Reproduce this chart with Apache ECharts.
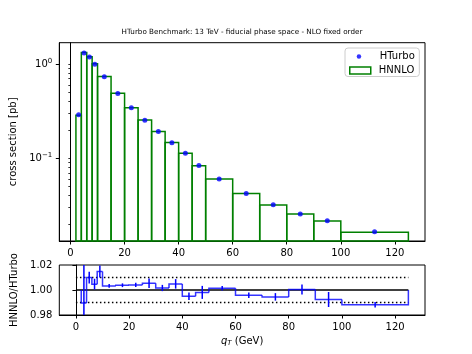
<!DOCTYPE html>
<html>
  <head>
      <meta charset="utf-8">
      <script src="https://cdn.jsdelivr.net/npm/echarts@6/dist/echarts.min.js"></script>
  </head>

<body style="margin:0">
    <div id="main" style="width: 472px;height:354px;"></div>
    <script type="text/javascript">
        // bins in qT (GeV)
        var binEdges = [2, 4, 6, 8, 10, 15, 20, 25, 30, 35, 40, 45, 50, 60, 70, 80, 90, 100, 125];
        var binCenters = [3, 5, 7, 9, 12.5, 17.5, 22.5, 27.5, 32.5, 37.5, 42.5, 47.5, 55, 65, 75, 85, 95, 112.5];
        // cross section [pb]
        var hnnlo = [0.286, 1.33, 1.20, 1.01, 0.738, 0.491, 0.345, 0.255, 0.192, 0.147, 0.113, 0.0834, 0.0603, 0.0421, 0.0319, 0.0255, 0.0215, 0.0164];
        var hturbo = [0.289, 1.31, 1.19, 1.00, 0.736, 0.489, 0.344, 0.254, 0.192, 0.146, 0.113, 0.0835, 0.0602, 0.0423, 0.0321, 0.0255, 0.0217, 0.0166];
        // HNNLO/HTurbo
        var ratio = [0.9897, 1.0100, 1.0047, 1.0149, 1.0033, 1.0038, 1.0041, 1.0054, 1.0016, 1.0049, 0.9950, 0.9981, 1.0014, 0.9958, 0.9945, 1.0004, 0.9924, 0.9882];
        var ratioErr = [0.035, 0.0047, 0.0043, 0.0048, 0.0015, 0.0015, 0.0017, 0.0038, 0.0025, 0.0038, 0.003, 0.0052, 0.0018, 0.0022, 0.003, 0.004, 0.006, 0.0022];
        var refX = [0, 125];
        var xTicks = [0, 20, 40, 60, 80, 100, 120];
        var yMajor = [0.1, 1];
        var yMinor = [0.02, 0.03, 0.04, 0.05, 0.06, 0.07, 0.08, 0.09, 0.2, 0.3, 0.4, 0.5, 0.6, 0.7, 0.8, 0.9];
        var ratioTicks = [0.98, 1.00, 1.02];

        var yMin = 0.0132, yMax = 1.69;
        var font = 'DejaVu Sans';

        var barData = hnnlo.map(function (v, i) { return [binEdges[i], binEdges[i + 1], v]; });
        var dotData = hturbo.map(function (v, i) { return [binCenters[i], v]; });
        var stepData = ratio.map(function (v, i) { return [binEdges[i], binEdges[i + 1], v, i]; });
        var errData = ratio.map(function (v, i) { return [binCenters[i], v - ratioErr[i], v + ratioErr[i]]; });

        function xAxisOpt(grid, min, max) {
            return {
                type: 'value', gridIndex: grid, min: min, max: max,
                axisLine: { lineStyle: { color: '#000', width: 1 } },
                axisTick: { customValues: xTicks, length: 3.5, lineStyle: { color: '#000' } },
                axisLabel: { customValues: xTicks, color: '#000', fontSize: 10, fontFamily: font, margin: 7 },
                splitLine: { show: false }
            };
        }

        var myChart = echarts.init(document.getElementById('main'));
        myChart.setOption({
            animation: false,
            title: {
                text: 'HTurbo Benchmark: 13 TeV - fiducial phase space - NLO fixed order',
                left: 242, top: 29, textAlign: 'center', padding: 0,
                textStyle: { fontSize: 7.2, fontWeight: 'normal', color: '#000', fontFamily: font }
            },
            legend: [{
                data: [{ name: 'HNNLO', icon: 'rect', itemStyle: { color: '#fff', borderColor: '#008000', borderWidth: 1.5 } }],
                left: 345, top: 48, padding: [17.5, 5, 1, 4], itemWidth: 21, itemHeight: 7,
                selectedMode: false, orient: 'vertical',
                borderColor: '#ccc', borderWidth: 1, borderRadius: 3, backgroundColor: 'rgba(255,255,255,0.8)',
                textStyle: { fontSize: 10, color: '#000', fontFamily: font, padding: [0, 0, 0, 3] }
            }, {
                data: [{ name: 'HTurbo', icon: 'circle', itemStyle: { color: '#0000ff' } }],
                left: 356.7, top: 51.5, padding: 0, itemWidth: 21, itemHeight: 4.5,
                selectedMode: false, z: 10,
                textStyle: { fontSize: 10, color: '#000', fontFamily: font, padding: [0, 0, 0, 5.3] }
            }],
            grid: [
                { left: 59.3, top: 42.7, width: 365.7, height: 198.3, show: true, borderColor: '#000', borderWidth: 1, backgroundColor: 'transparent' },
                { left: 59.3, top: 265, width: 365.7, height: 50, show: true, borderColor: '#000', borderWidth: 1, backgroundColor: 'transparent' }
            ],
            xAxis: [
                xAxisOpt(0, -4.15, 131.15),
                Object.assign(xAxisOpt(1, -6.25, 131.25), {
                    name: '{i|q}{sub|T} (GeV)', nameLocation: 'middle', nameGap: 20,
                    nameTextStyle: {
                        fontSize: 10, color: '#000', fontFamily: font,
                        rich: {
                            i: { fontSize: 10, fontStyle: 'italic', fontFamily: font, color: '#000' },
                            sub: { fontSize: 7, fontStyle: 'italic', fontFamily: font, color: '#000', verticalAlign: 'bottom', padding: [5, 0, 0, 0] }
                        }
                    }
                })
            ],
            yAxis: [{
                type: 'log', logBase: 10, gridIndex: 0, min: yMin, max: yMax, position: 'left',
                name: 'cross section [pb]', nameLocation: 'middle', nameGap: 31,
                nameTextStyle: { fontSize: 10, color: '#000', fontFamily: font },
                axisLine: { show: true, lineStyle: { color: '#000', width: 1 } },
                axisTick: { customValues: yMinor.concat(yMajor), length: 2.2, lineStyle: { color: '#000', width: 0.8 } },
                axisLabel: {
                    customValues: yMajor, margin: 7, color: '#000', fontSize: 10, fontFamily: font,
                    formatter: function (v) {
                        var e = Math.round(Math.log10(v));
                        return '10{sup|' + (e < 0 ? '\u2212' + (-e) : e) + '}';
                    },
                    rich: { sup: { fontSize: 7, fontFamily: font, color: '#000', verticalAlign: 'top', padding: [0, 0, 6, 0] } }
                },
                splitLine: { show: false }
            }, {
                type: 'log', logBase: 10, gridIndex: 0, min: yMin, max: yMax, position: 'left', offset: 0,
                axisLine: { show: true, lineStyle: { color: '#000', width: 1 } },
                axisTick: { show: true, customValues: yMajor, length: 3.5, lineStyle: { color: '#000', width: 1 } },
                axisLabel: { show: false },
                splitLine: { show: false }
            }, {
                type: 'value', gridIndex: 1, min: 0.98, max: 1.02, interval: 0.02, position: 'left',
                name: 'HNNLO/HTurbo', nameLocation: 'middle', nameGap: 27,
                nameTextStyle: { fontSize: 10, color: '#000', fontFamily: font },
                axisLine: { show: true, lineStyle: { color: '#000', width: 1 } },
                axisTick: { customValues: ratioTicks, length: 3.5, lineStyle: { color: '#000' } },
                axisLabel: {
                    customValues: ratioTicks, margin: 7, color: '#000', fontSize: 10, fontFamily: font,
                    formatter: function (v) { return v.toFixed(2); }
                },
                splitLine: { show: false }
            }],
            series: [{
                name: 'HNNLO', type: 'custom', xAxisIndex: 0, yAxisIndex: 0,
                data: barData, encode: { x: [0, 1], y: 2 },
                renderItem: function (params, api) {
                    var p0 = api.coord([api.value(0), api.value(2)]);
                    var p1 = api.coord([api.value(1), yMin]);
                    return {
                        type: 'rect',
                        shape: { x: p0[0], y: p0[1], width: p1[0] - p0[0], height: p1[1] - p0[1] },
                        style: { fill: 'none', stroke: '#008000', lineWidth: 1.5 }
                    };
                }
            }, {
                name: 'HTurbo', type: 'scatter', xAxisIndex: 0, yAxisIndex: 0,
                data: dotData, symbolSize: 5, itemStyle: { color: '#0000ff' }, z: 5
            }, {
                type: 'line', xAxisIndex: 1, yAxisIndex: 2, data: refX.map(function (x) { return [x, 1.0]; }),
                symbol: 'none', lineStyle: { color: '#000', width: 1.5 }
            }, {
                type: 'line', xAxisIndex: 1, yAxisIndex: 2, data: refX.map(function (x) { return [x, 1.01]; }),
                symbol: 'none', lineStyle: { color: '#000', width: 1.5, type: [1.5, 2.5] }
            }, {
                type: 'line', xAxisIndex: 1, yAxisIndex: 2, data: refX.map(function (x) { return [x, 0.99]; }),
                symbol: 'none', lineStyle: { color: '#000', width: 1.5, type: [1.5, 2.5] }
            }, {
                type: 'custom', xAxisIndex: 1, yAxisIndex: 2, clip: true, z: 4,
                data: stepData, encode: { x: [0, 1], y: 2 },
                renderItem: function (params, api) {
                    var i = api.value(3);
                    var prev = i > 0 ? ratio[i - 1] : 1.0;
                    var pts = [
                        api.coord([api.value(0), prev]),
                        api.coord([api.value(0), api.value(2)]),
                        api.coord([api.value(1), api.value(2)])
                    ];
                    if (i === ratio.length - 1) pts.push(api.coord([api.value(1), 1.0]));
                    return {
                        type: 'polyline', shape: { points: pts },
                        style: { fill: 'none', stroke: 'rgba(0,0,255,0.8)', lineWidth: 1.5 }
                    };
                }
            }, {
                type: 'custom', xAxisIndex: 1, yAxisIndex: 2, clip: true, z: 4,
                data: errData, encode: { x: 0, y: [1, 2] },
                renderItem: function (params, api) {
                    var a = api.coord([api.value(0), api.value(1)]);
                    var b = api.coord([api.value(0), api.value(2)]);
                    return {
                        type: 'line', shape: { x1: a[0], y1: a[1], x2: b[0], y2: b[1] },
                        style: { stroke: '#0000ff', lineWidth: 1.5 }
                    };
                }
            }]
        });
    </script>
</body>

</html>
